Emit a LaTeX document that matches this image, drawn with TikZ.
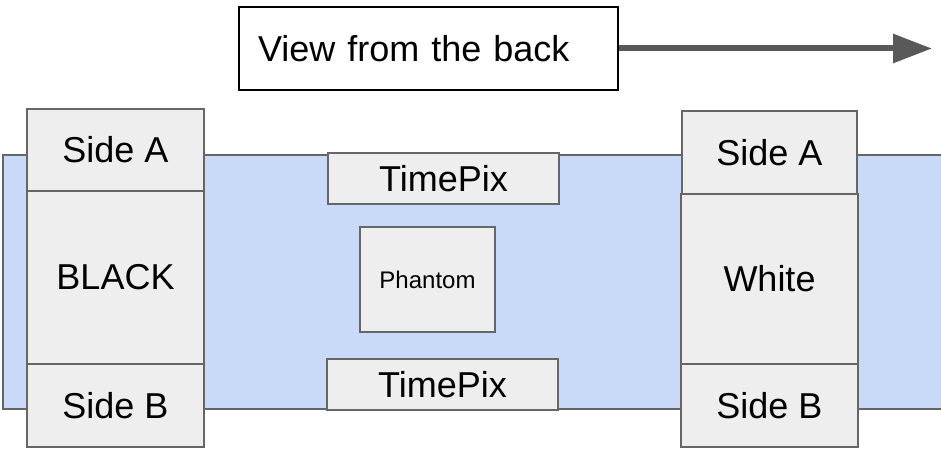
\documentclass[tikz,border=0pt]{standalone}
\usepackage{fontspec}
\setmainfont{Liberation Sans}
\usetikzlibrary{arrows.meta}
\definecolor{boxfill}{HTML}{EEEEEE}
\definecolor{boxline}{HTML}{666666}
\definecolor{bandfill}{HTML}{C9DAF8}
\definecolor{arrowgray}{HTML}{595959}
\tikzset{
  partbox/.style={draw=boxline, fill=boxfill, line width=1.5pt, inner sep=0pt,
    font=\fontsize{36}{43}\selectfont},
  smallbox/.style={partbox, font=\fontsize{24}{29}\selectfont},
  titlebox/.style={draw=black, fill=white, line width=1.3pt, inner xsep=19pt, inner ysep=0pt,
    align=left, font=\fontsize{36}{43}\selectfont},
  bigarrow/.style={draw=arrowgray, line width=6pt, -{Triangle[length=39pt,width=28pt]}}
}
\begin{document}
\begin{tikzpicture}[x=1pt,y=-1pt]
\useasboundingbox (0,0) rectangle (941,449);
% band
\fill[bandfill] (3,155) rectangle (941,409);
\draw[boxline, line width=1.5pt] (941,155) -- (3,155) -- (3,409) -- (941,409);
% title and arrow
\node[titlebox, text width=341pt, minimum height=83pt] (view) at (428.5,48.5) {View from the back};
\coordinate (arrowend) at (932,48.5);
\draw[bigarrow] (view.east) -- (arrowend);
% left column
\node[partbox, minimum width=177pt, minimum height=82pt] (lsa) at (115.5,150) {Side A};
\node[partbox, minimum width=177pt, minimum height=173pt] (black) at (115.5,277.5) {BLACK};
\node[partbox, minimum width=177pt, minimum height=83pt] (lsb) at (115.5,405.5) {Side B};
% right column
\node[partbox, minimum width=177pt, minimum height=170pt] (white) at (769.5,279) {White};
\node[partbox, minimum width=177pt, minimum height=83pt] (rsb) at (769.5,405.5) {Side B};
\node[partbox, line width=2.5pt, minimum width=175pt, minimum height=83pt] (rsa) at (769.5,152.5) {Side A};
% centre
\node[partbox, minimum width=231pt, minimum height=51pt] (tpt) at (443.5,178.5) {TimePix};
\node[smallbox, minimum width=135pt, minimum height=105pt] (phantom) at (427.5,279.5) {Phantom};
\node[partbox, minimum width=231pt, minimum height=51pt] (tpb) at (442.5,384.5) {TimePix};
\end{tikzpicture}
\end{document}
